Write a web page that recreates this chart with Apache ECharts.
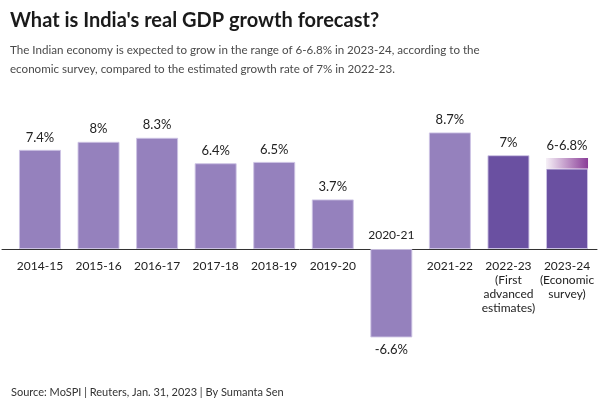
<!DOCTYPE html>
<html><head><meta charset="utf-8">
<script src="https://cdn.jsdelivr.net/npm/echarts@6/dist/echarts.min.js"></script>
<style>html,body{margin:0;padding:0;background:#fff}#c{width:600px;height:400px}</style>
</head><body><div id="c"></div>
<script>
const categories = ['2014-15','2015-16','2016-17','2017-18','2018-19','2019-20','2020-21','2021-22','2022-23\n(First\nadvanced\nestimates)','2023-24\n(Economic\nsurvey)'];
const growth = [7.4, 8, 8.3, 6.4, 6.5, 3.7, -6.6, 8.7, 7, 6];
const rangeTop = [null, null, null, null, null, null, null, null, null, 0.8];
const valueLabels = ['7.4%','8%','8.3%','6.4%','6.5%','3.7%','-6.6%','8.7%','7%','6-6.8%'];
const estimateFlags = [false,false,false,false,false,false,false,false,true,true];

const LIGHT = '#9581bd', DARK = '#6a50a1';
const FONT = 'Lato';

const mainData = growth.map((v, i) => ({
  value: v,
  itemStyle: { color: estimateFlags[i] ? DARK : LIGHT },
  label: {
    show: rangeTop[i] == null,
    position: v < 0 ? 'bottom' : 'top',
    formatter: valueLabels[i]
  }
}));
const rangeData = rangeTop.map((v, i) => v == null ? null : ({
  value: v,
  label: { show: true, position: 'top', formatter: valueLabels[i] }
}));

// zero line sits at y = 115 + 268/2 = 249
const PLOT = { top: 115, bottom: 17 };
const ZERO_BOTTOM = 151;

const chart = echarts.init(document.getElementById('c'), null, {renderer: 'canvas'});
chart.setOption({
  animation: false,
  textStyle: { fontFamily: FONT },
  title: [
    { text: "What is India's real GDP growth forecast?", left: 5, top: 6,
      textStyle: { fontFamily: FONT, fontWeight: 'bold', fontSize: 20, color: '#1a1a1a' } },
    { text: 'The Indian economy is expected to grow in the range of 6-6.8% in 2023-24, according to the\neconomic survey, compared to the estimated growth rate of 7% in 2022-23.',
      left: 5, top: 36,
      textStyle: { fontFamily: FONT, fontWeight: 'normal', fontSize: 11.6, lineHeight: 19, color: '#4a4a4a' } },
    { text: 'Source: MoSPI | Reuters, Jan. 31, 2023 | By Sumanta Sen', left: 6, top: 382,
      textStyle: { fontFamily: FONT, fontWeight: 'normal', fontSize: 11, color: '#333' } }
  ],
  grid: [
    { left: 10.7, right: 3.7, top: PLOT.top, bottom: PLOT.bottom, outerBoundsMode: 'none' },
    { left: 2, right: 3, top: PLOT.top, bottom: ZERO_BOTTOM, outerBoundsMode: 'none' },
    { left: 10.7, right: 3.7, top: PLOT.top, bottom: ZERO_BOTTOM, outerBoundsMode: 'none' }
  ],
  xAxis: [
    { type: 'category', gridIndex: 0, data: categories, show: false },
    { type: 'value', gridIndex: 1, min: 0, max: 1, position: 'bottom',
      axisLine: { show: true, onZero: false, lineStyle: { color: '#333', width: 1 } },
      axisTick: { show: false }, axisLabel: { show: false }, splitLine: { show: false }
    },
    { type: 'category', gridIndex: 2, data: categories, position: 'bottom',
      axisLine: { show: false, onZero: false },
      axisTick: { alignWithLabel: true, length: 5, lineStyle: { color: '#333' }, interval: (i) => i !== 6 },
      axisLabel: { interval: (i) => i !== 6, margin: 10, fontSize: 12, lineHeight: 14, color: '#222', fontFamily: FONT }
    },
    { type: 'category', gridIndex: 2, data: categories, position: 'bottom',
      axisLine: { show: false, onZero: false },
      axisTick: { alignWithLabel: true, inside: true, length: 5, lineStyle: { color: '#333' }, interval: (i) => i === 6 },
      axisLabel: { inside: true, interval: (i) => i === 6, margin: 8, fontSize: 12, color: '#222', fontFamily: FONT }
    }
  ],
  yAxis: [
    { type: 'value', gridIndex: 0, min: -10, max: 10, show: false },
    { type: 'value', gridIndex: 1, min: 0, max: 1, show: false },
    { type: 'value', gridIndex: 2, min: 0, max: 1, show: false }
  ],
  series: [
    { type: 'bar', xAxisIndex: 0, yAxisIndex: 0, stack: 'g', barWidth: 42, data: mainData,
      itemStyle: { borderColor: 'rgba(205,195,228,0.9)', borderWidth: 1 },
      label: { distance: 6, fontSize: 13, color: '#222', fontFamily: FONT } },
    { type: 'bar', xAxisIndex: 0, yAxisIndex: 0, stack: 'g', barWidth: 42, data: rangeData,
      itemStyle: {
        color: new echarts.graphic.LinearGradient(0, 0, 1, 0, [
          { offset: 0, color: '#f6f0f7' }, { offset: 1, color: '#8a3d98' }
        ])
      },
      label: { distance: 6, fontSize: 13, color: '#222', fontFamily: FONT } }
  ]
});
</script></body></html>
